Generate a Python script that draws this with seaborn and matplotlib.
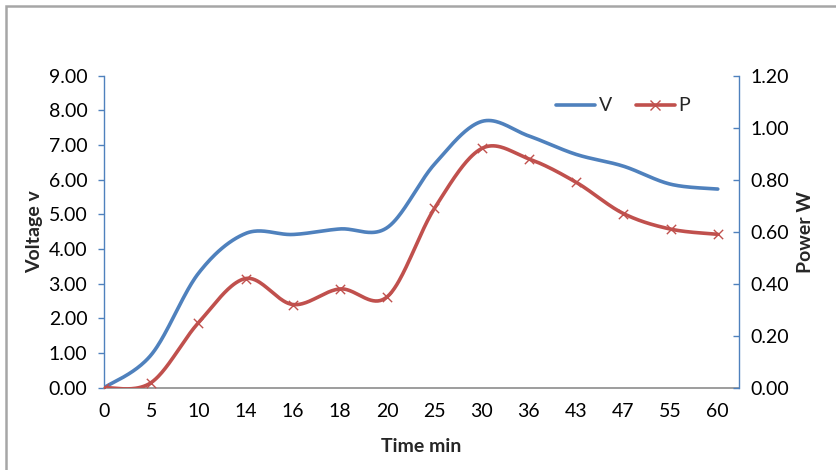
import numpy as np
import pandas as pd
import matplotlib
matplotlib.use("Agg")
import matplotlib.pyplot as plt
import seaborn as sns
from matplotlib.lines import Line2D
from matplotlib.patches import Rectangle

# Measurements
time_labels = ["0", "5", "10", "14", "16", "18", "20", "25", "30", "36", "43", "47", "55", "60"]
voltage = [0.0, 0.95, 3.30, 4.45, 4.42, 4.58, 4.62, 6.45, 7.68, 7.26, 6.73, 6.39, 5.87, 5.73]
power = [0.0, 0.02, 0.25, 0.42, 0.32, 0.38, 0.35, 0.69, 0.92, 0.88, 0.79, 0.67, 0.61, 0.59]

BLUE = "#4F81BD"
RED = "#C0504D"


def smooth(xs, ys, n=40):
    """Bezier smoothing through every point (spreadsheet-style smoothed line)."""
    pts = np.column_stack([xs, ys]).astype(float)
    out = []
    m = len(pts)
    for i in range(m - 1):
        p0 = pts[i - 1] if i > 0 else pts[i]
        p1 = pts[i]
        p2 = pts[i + 1]
        p3 = pts[i + 2] if i + 2 < m else pts[i + 1]
        c1 = p1 + (p2 - p0) / 6.0
        c2 = p2 - (p3 - p1) / 6.0
        t = np.linspace(0, 1, n, endpoint=(i == m - 2))[:, None]
        seg = ((1 - t) ** 3) * p1 + 3 * ((1 - t) ** 2) * t * c1 + 3 * (1 - t) * t ** 2 * c2 + t ** 3 * p2
        out.append(seg)
    arr = np.vstack(out)
    return arr[:, 0], arr[:, 1]


sns.set_theme(style="white")
plt.rcParams["font.family"] = ["Lato", "DejaVu Sans"]

fig = plt.figure(figsize=(8.36, 4.70), dpi=100)
ax = fig.add_axes([0.1244, 0.175, 0.884 - 0.1244, 0.839 - 0.175])
ax2 = ax.twinx()

idx = np.arange(len(time_labels))
vx, vy = smooth(idx, voltage)
px, py = smooth(idx, power)

df_v = pd.DataFrame({"x": vx, "y": vy})
df_p = pd.DataFrame({"x": px, "y": py})
df_pts = pd.DataFrame({"x": idx, "y": power})

sns.lineplot(data=df_v, x="x", y="y", ax=ax, color=BLUE, linewidth=2.6, sort=False,
             estimator=None)
sns.lineplot(data=df_p, x="x", y="y", ax=ax2, color=RED, linewidth=2.6, sort=False,
             estimator=None)
sns.scatterplot(data=df_pts, x="x", y="y", ax=ax2, color=RED, marker="x", s=45,
                linewidth=1.0, zorder=5)

xmax = len(time_labels) - 1 + 0.45
for a in (ax, ax2):
    a.set_xlim(0, xmax)
    a.set_xlabel("")
    a.set_ylabel("")
    a.grid(False)

ax.set_ylim(0, 9)
ax.set_yticks(np.arange(0, 9.01, 1.0))
ax.set_yticklabels([f"{v:.2f}" for v in np.arange(0, 9.01, 1.0)])
ax2.set_ylim(0, 1.2)
ax2.set_yticks(np.arange(0, 1.201, 0.2))
ax2.set_yticklabels([f"{v:.2f}" for v in np.arange(0, 1.201, 0.2)])

ax.set_xticks(idx)
ax.set_xticklabels(time_labels)

# Spines
for a in (ax, ax2):
    for s in a.spines.values():
        s.set_visible(False)
ax.spines["left"].set_visible(True)
ax.spines["left"].set_color(BLUE)
ax.spines["left"].set_linewidth(1.0)
ax.spines["bottom"].set_visible(True)
ax.spines["bottom"].set_color("#8C8C8C")
ax.spines["bottom"].set_linewidth(1.2)
ax2.spines["right"].set_visible(True)
ax2.spines["right"].set_color(BLUE)
ax2.spines["right"].set_linewidth(1.0)

ax.tick_params(axis="y", direction="out", length=4, width=1, color=BLUE,
               labelsize=14, pad=8, left=True, labelcolor="black")
ax.tick_params(axis="x", length=0, labelsize=14, pad=11, labelcolor="black")
ax2.tick_params(axis="y", direction="in", length=4, width=1, color=BLUE,
                labelsize=14, pad=8, right=True, labelcolor="black")

ax.set_ylabel("Voltage v", fontsize=14, fontweight="bold", labelpad=4)
ax2.set_ylabel("Power W", fontsize=14, fontweight="bold", labelpad=6)
ax.set_xlabel("Time min", fontsize=14, fontweight="bold", labelpad=13)

# Legend
handles = [
    Line2D([], [], color=BLUE, linewidth=2.6),
    Line2D([], [], color=RED, linewidth=2.6, marker="x", markersize=7, markeredgewidth=1.0),
]
leg = ax2.legend(handles, ["V", "P"], loc="upper left", bbox_to_anchor=(0.7, 0.955),
                 ncol=2, frameon=False, fontsize=14, handlelength=2.0,
                 handletextpad=0.2, columnspacing=1.2, borderaxespad=0)

# Outer chart border
fig.patches.append(Rectangle((6 / 836, -0.05), 1.1, 1 - 6 / 470 + 0.05,
                             transform=fig.transFigure, fill=False,
                             edgecolor="#A6A6A6", linewidth=1.8))

fig.savefig("out.png", dpi=100, facecolor="white")
